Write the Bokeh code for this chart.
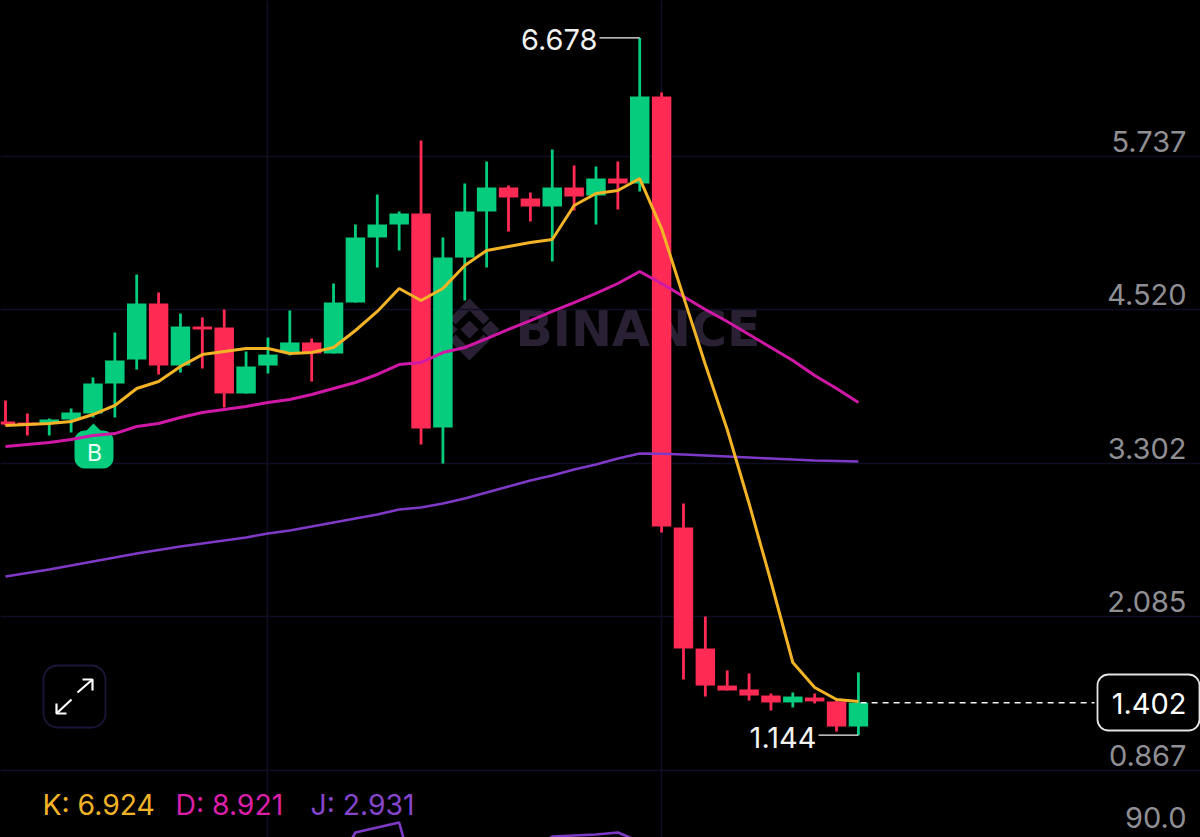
from bokeh.plotting import figure
from bokeh.embed import file_html
from bokeh.resources import INLINE
from bokeh.core.properties import value
from bokeh.models import BoxAnnotation, FixedTicker, GlobalInlineStyleSheet, Range1d
import numpy as np

tick_vals = [5.737, 4.520, 3.302, 2.085, 0.867]
tick_labels = ["5.737", "4.520", "3.302", "2.085", "0.867"]
v_grid = [12, 30]

opens = [3.634,3.626,3.618,3.650,3.697,3.935,4.126,4.570,4.078,4.388,4.380,3.856,4.078,4.181,4.261,4.173,4.578,5.094,5.197,5.285,
         3.586,4.935,5.300,5.491,5.404,5.340,5.491,5.427,5.562,5.523,6.213,2.792,1.832,1.538,1.507,1.459,1.404,1.443,1.412,1.213]
closes = [3.610,3.602,3.650,3.705,3.935,4.118,4.570,4.078,4.388,4.364,3.856,4.070,4.165,4.261,4.173,4.578,5.094,5.197,5.285,3.578,
          4.935,5.300,5.491,5.412,5.340,5.491,5.419,5.562,5.523,6.213,2.800,1.832,1.538,1.499,1.459,1.404,1.451,1.412,1.213,1.402]
highs = [3.800,3.697,3.658,3.737,3.983,4.340,4.800,4.658,4.491,4.459,4.523,4.189,4.300,4.515,4.292,4.729,5.197,5.435,5.300,5.864,
         5.094,5.523,5.697,5.507,5.451,5.792,5.665,5.657,5.697,6.678,6.245,2.983,2.086,1.658,1.634,1.475,1.483,1.475,1.435,1.642]
lows = [3.602,3.523,3.523,3.546,3.665,3.665,4.046,4.007,4.023,4.054,3.745,3.856,4.015,4.158,3.951,4.173,4.578,4.856,4.991,3.451,
        3.300,4.594,4.856,5.142,5.221,4.904,5.308,5.197,5.316,5.459,2.753,1.586,1.451,1.499,1.419,1.340,1.364,1.396,1.173,1.144]
ma_yellow = [3.602,3.610,3.618,3.634,3.689,3.761,3.896,3.951,4.070,4.165,4.189,4.213,4.213,4.173,4.181,4.221,4.356,4.507,4.689,4.594,
             4.689,4.872,4.991,5.023,5.054,5.078,5.348,5.443,5.467,5.562,5.165,4.625,4.086,3.570,2.983,2.364,1.721,1.523,1.427,1.412]
ma_pink = [3.435,3.451,3.467,3.491,3.523,3.538,3.594,3.618,3.665,3.705,3.729,3.753,3.785,3.808,3.848,3.896,3.943,4.007,4.086,4.102,
           4.181,4.221,4.292,4.364,4.435,4.507,4.578,4.650,4.729,4.824,4.729,4.626,4.523,4.427,4.324,4.221,4.118,3.999,3.896,3.785]
ma_purple = [2.404,2.431,2.459,2.491,2.523,2.554,2.586,2.614,2.642,2.665,2.689,2.713,2.745,2.769,2.800,2.832,2.864,2.896,2.935,2.951,
             2.983,3.023,3.070,3.118,3.165,3.205,3.253,3.292,3.340,3.380,3.378,3.372,3.364,3.356,3.348,3.340,3.332,3.324,3.320,3.316]
j_index = [15, 16, 17, 18, 19, 24, 25, 26, 27, 28, 29]
j_values = [52, 90, 95, 100, 21, 70, 86, 87, 88, 90, 81]
high_label, low_label, last_price = "6.678", "1.144", 1.402
kdj_labels = ["K: 6.924", "D: 8.921", "J: 2.931"]

W, H = 1200, 837
X0, DX = 5.0, 21.87
PY = 126.0
TOP = 6.975
X = lambda px: (px - X0) / DX
Y = lambda py: TOP - py / PY

GREEN, RED = "#06cc7e", "#ff2b55"
YELLOW, PINK, PURPLE = "#f2b327", "#cf18a6", "#7e3ac6"
GRID = "#100e24"
FONT = value("Inter")

p = figure(width=W, height=H, output_backend="svg", toolbar_location=None,
           x_range=Range1d(X(0), X(W)), y_range=Range1d(Y(H), Y(0)),
           background_fill_color="#000000", border_fill_color="#000000",
           min_border=0, outline_line_color=None)
p.xaxis.visible = False
p.yaxis.visible = False
p.ygrid.ticker = FixedTicker(ticks=tick_vals)
p.xgrid.ticker = FixedTicker(ticks=v_grid)
p.grid.grid_line_color = GRID
p.grid.grid_line_width = 1.5
p.stylesheets = [GlobalInlineStyleSheet(css="html,body{margin:0;padding:0;background:#000;overflow:hidden}")]
p.extra_y_ranges = {"kdj": Range1d(85, 922)}

def txt(s, px, py, size, color, align="left", font=FONT, **kw):
    kw.setdefault("level", "overlay")
    p.text(x=[X(px)], y=[Y(py)], text=[s], text_color=color, text_font=font,
           text_font_size=f"{size}px", text_align=align, text_baseline="middle", **kw)

# watermark
WM = "#2a2033"
cx, cy, s = 469, 329, 31
def dia(x, y, r):
    return [X(x), X(x + r), X(x), X(x - r)], [Y(y - r), Y(y), Y(y + r), Y(y)]
xs, ys = [], []
for dxy in [(0, 0, 9), (-21, 0, 9), (21, 0, 9)]:
    a, b = dia(cx + dxy[0], cy + dxy[1], dxy[2]); xs.append(a); ys.append(b)
for sign in (-1, 1):
    xs.append([X(cx), X(cx + 20), X(cx + 14), X(cx), X(cx - 14), X(cx - 20)])
    ys.append([Y(cy + sign * s), Y(cy + sign * 11), Y(cy + sign * 5), Y(cy + sign * 19), Y(cy + sign * 5), Y(cy + sign * 11)])
p.patches(xs, ys, fill_color=WM, line_color=None, level="underlay")
txt("BINANCE", 515, 329, 49, WM, font=value("DejaVu Sans"), text_font_style="bold", level="underlay")

# candles
idx = np.arange(len(opens))
o, c, h, l = map(np.array, (opens, closes, highs, lows))
up = c >= o
for mask, col in ((up, GREEN), (~up, RED)):
    p.segment(idx[mask], h[mask], idx[mask], l[mask], line_color=col, line_width=2.8)
    p.vbar(idx[mask], 0.89, np.minimum(o, c)[mask], np.maximum(o, c)[mask], fill_color=col, line_color=None)

# moving averages
p.line(idx, ma_purple, line_color=PURPLE, line_width=2.6)
p.line(idx, ma_pink, line_color=PINK, line_width=3)
p.line(idx, ma_yellow, line_color=YELLOW, line_width=3)

# KDJ J line
for part in (slice(0, 5), slice(5, None)):
    p.line(j_index[part], j_values[part], y_range_name="kdj", line_color=PURPLE, line_width=2.6)

# B marker
p.add_layout(BoxAnnotation(left=X(74), right=X(113), top=Y(430), bottom=Y(468), fill_color=GREEN, fill_alpha=1,
                           line_color=None, border_radius=10, level="underlay"))
p.patch([X(85), X(93), X(101)], [Y(431), Y(423), Y(431)], fill_color=GREEN, line_color=None, level="underlay")
txt("B", 94, 452, 23, "#e8fff5", "center")

# high / low callouts
WHITE = "#f2f2f2"
hi_i, lo_i = int(np.argmax(h)), int(np.argmin(l))
p.line([X(599), hi_i], [highs[hi_i], highs[hi_i]], line_color=WHITE, line_width=1.3)
p.line([X(818), lo_i], [lows[lo_i], lows[lo_i]], line_color=WHITE, line_width=1.3)
txt(high_label, 597, 39, 29, WHITE, "right")
txt(low_label, 816, 737, 29, WHITE, "right")

# price axis labels
for v, t in zip(tick_vals, tick_labels):
    txt(t, 1186, (TOP - v) * PY - 15, 29, "#8f8f94", "right")
txt("90.0", 1186, 817, 29, "#8f8f94", "right")

# current price
p.segment([len(opens) - 1 + 0.1], [last_price], [X(1094)], [last_price], line_color=WHITE, line_width=1.4, line_dash="6 5")
p.add_layout(BoxAnnotation(left=X(1097), right=X(1199), top=Y(674), bottom=Y(730), fill_color="#000000", fill_alpha=1,
                           line_color="#e4e4e4", line_alpha=1, line_width=1.8, border_radius=11, level="annotation"))
txt(f"{last_price:.3f}", 1186, 703, 29, "#ffffff", "right")

# expand icon
p.add_layout(BoxAnnotation(left=X(43), right=X(105), top=Y(665), bottom=Y(727), fill_alpha=0,
                           line_color="#1a1638", line_alpha=1, line_width=1.8, border_radius=14, level="annotation"))
ic_x = [[77, 92], [82, 92, 92], [71, 56], [56, 56, 66]]
ic_y = [[692, 679], [679, 679, 690], [699, 713], [703, 713, 713]]
p.multi_line([[X(v) for v in a] for a in ic_x], [[Y(v) for v in a] for a in ic_y], line_color="#ffffff", line_width=2.2)

# indicator legend
txt(kdj_labels[0], 42, 804, 28.3, YELLOW)
txt(kdj_labels[1], 175, 804, 28.3, "#dc1fa8")
txt(kdj_labels[2], 310, 804, 28.3, "#8646cc")

open("out.html", "w").write(file_html(p, INLINE))
